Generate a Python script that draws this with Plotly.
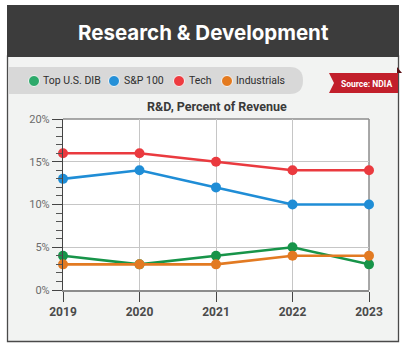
import plotly.graph_objects as go

# R&D spending as a share of revenue, by peer group
years = [2019, 2020, 2021, 2022, 2023]
top_us_dib = [4, 3, 4, 5, 3]
sp_100 = [13, 14, 12, 10, 10]
tech = [16, 16, 15, 14, 14]
industrials = [3, 3, 3, 4, 4]

series_names = ["Top U.S. DIB", "S&P 100", "Tech", "Industrials"]
line_colors = ["#179449", "#1f8dd6", "#ea3a3f", "#e27a22"]
legend_colors = ["#2daa6b", "#2590d8", "#ee3b40", "#e47a1f"]
y_ticks = [0, 5, 10, 15, 20]
y_tick_text = ["0%", "5%", "10%", "15%", "20%"]

W, H = 408, 344
L, R, T, B = 63, 369, 119, 290  # plot area edges in pixels


def px(x):
    return (x - L) / (R - L)


def py(y):
    return (B - y) / (B - T)


fig = go.Figure()

for name, vals, col in zip(series_names, [top_us_dib, sp_100, tech, industrials], line_colors):
    fig.add_trace(go.Scatter(
        x=years, y=vals, name=name, mode="lines+markers",
        line=dict(color=col, width=2.6),
        marker=dict(color=col, size=10),
        cliponaxis=False, showlegend=False,
    ))

shapes = []
# card background and border
shapes.append(dict(type="rect", xref="paper", yref="paper",
                   x0=px(7.5), x1=px(398.5), y0=py(341.5), y1=py(56),
                   fillcolor="#f2f3f2", line=dict(color="#4a4a4a", width=1.3), layer="below"))
# header band
shapes.append(dict(type="rect", xref="paper", yref="paper",
                   x0=px(7), x1=px(399), y0=py(57), y1=py(5),
                   fillcolor="#3c3c3c", line=dict(width=0), layer="below"))
# legend pill
x_a, x_b, y_a, y_b, r = 8, 303, 67, 94, 13.5
pill = (f"M {px(x_a)} {py(y_a)} L {px(x_b - r)} {py(y_a)} "
        f"Q {px(x_b)} {py(y_a)} {px(x_b)} {py((y_a + y_b) / 2)} "
        f"Q {px(x_b)} {py(y_b)} {px(x_b - r)} {py(y_b)} "
        f"L {px(x_a)} {py(y_b)} Z")
shapes.append(dict(type="path", xref="paper", yref="paper", path=pill,
                   fillcolor="#d8d8d8", line=dict(width=0), layer="below"))
# source ribbon
ribbon = (f"M {px(329)} {py(73)} L {px(398)} {py(73)} L {px(398)} {py(93)} "
          f"L {px(329)} {py(93)} L {px(334)} {py(83)} Z")
shapes.append(dict(type="path", xref="paper", yref="paper", path=ribbon,
                   fillcolor="#c21f2b", line=dict(width=0), layer="above"))
fold = f"M {px(397)} {py(67)} L {px(402)} {py(73)} L {px(397)} {py(73)} Z"
shapes.append(dict(type="path", xref="paper", yref="paper", path=fold,
                   fillcolor="#5b0f14", line=dict(width=0), layer="above"))
# white plot area
shapes.append(dict(type="rect", xref="paper", yref="paper", x0=0, x1=1, y0=0, y1=1,
                   fillcolor="#ffffff", line=dict(width=0), layer="below"))
# top and right plot frame
shapes.append(dict(type="line", xref="paper", yref="paper", x0=0, x1=1, y0=1, y1=1,
                   line=dict(color="#8c8c8c", width=1.5), layer="between"))
shapes.append(dict(type="line", xref="paper", yref="paper", x0=1, x1=1, y0=0, y1=1,
                   line=dict(color="#8c8c8c", width=1.5), layer="between"))

# legend circles
legend_cx = [34, 114, 179, 227]
legend_tx = [43, 124, 189, 236]
for cx, col in zip(legend_cx, legend_colors):
    shapes.append(dict(type="circle", xref="paper", yref="paper",
                       x0=px(cx - 5.5), x1=px(cx + 5.5), y0=py(81 + 5.5), y1=py(81 - 5.5),
                       fillcolor=col, line=dict(color="#f4f4f4", width=1), layer="above"))

annotations = [
    dict(text="<b>Research & Development</b>", x=px(203), y=py(32), xref="paper", yref="paper",
         showarrow=False, font=dict(family="Inter", size=20.5, color="#ffffff"),
         xanchor="center", yanchor="middle"),
    dict(text="<b>R&D, Percent of Revenue</b>", x=px(217), y=py(106), xref="paper", yref="paper",
         showarrow=False, font=dict(family="Roboto", size=12.5, color="#3a3a3a"),
         xanchor="center", yanchor="middle"),
    dict(text="<b>Source: NDIA</b>", x=px(366), y=py(83.5), xref="paper", yref="paper",
         showarrow=False, font=dict(family="Roboto", size=8.5, color="#ffffff"),
         xanchor="center", yanchor="middle"),
]
for tx, name in zip(legend_tx, series_names):
    annotations.append(dict(text=name, x=px(tx), y=py(81), xref="paper", yref="paper",
                            showarrow=False, font=dict(family="Roboto", size=10.5, color="#2e2e2e"),
                            xanchor="left", yanchor="middle", xshift=-2))

fig.update_layout(
    width=W, height=H,
    margin=dict(l=L, r=W - R, t=T, b=H - B, pad=0),
    paper_bgcolor="#ffffff", plot_bgcolor="#ffffff",
    shapes=shapes, annotations=annotations,
    showlegend=False,
    xaxis=dict(range=[2019, 2023], tickvals=years, ticktext=[str(y) for y in years],
               showgrid=True, gridcolor="#c6c6c6", gridwidth=1.3,
               showline=True, linecolor="#8c8c8c", linewidth=1.5,
               ticks="outside", ticklen=10, tickwidth=1.3, tickcolor="#444444",
               tickfont=dict(family="Roboto", size=12, color="#4a4a4a", weight="bold"),
               zeroline=False, fixedrange=True),
    yaxis=dict(range=[0, 20], tickvals=y_ticks, ticktext=y_tick_text,
               showgrid=True, gridcolor="#c6c6c6", gridwidth=1.3,
               showline=True, linecolor="#444444", linewidth=1.3,
               ticks="outside", ticklen=10, tickwidth=1.3, tickcolor="#444444",
               minor=dict(dtick=1, ticks="outside", ticklen=6, tickwidth=1, tickcolor="#555555",
                          showgrid=False),
               tickfont=dict(family="Roboto", size=11, color="#6b6b6b"),
               zeroline=False, fixedrange=True),
)

fig.write_html("out.html")
